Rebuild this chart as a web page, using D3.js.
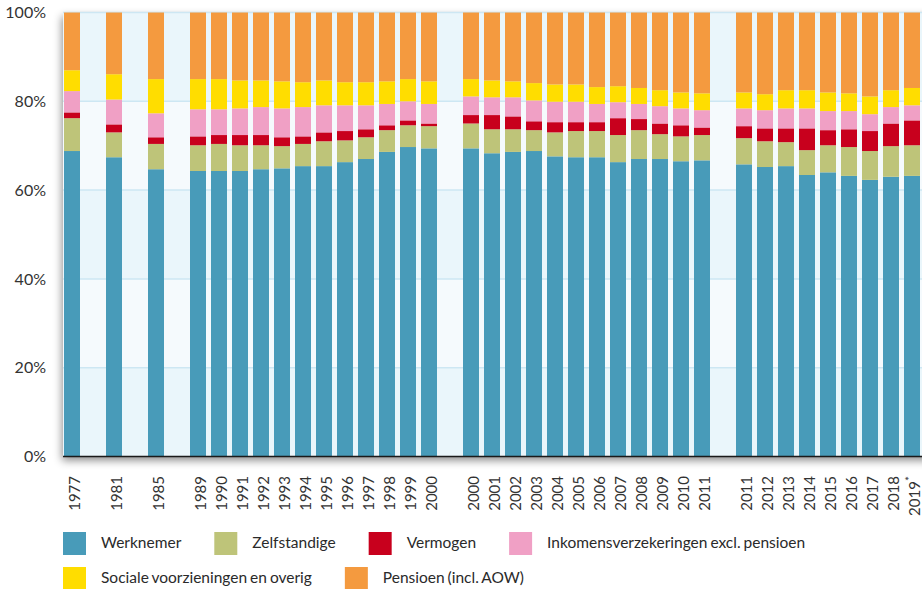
<!DOCTYPE html>
<html>
<head>
<meta charset="utf-8">
<script src="https://cdn.jsdelivr.net/npm/d3@7"></script>
<style>
  body { margin: 0; background: #fff; }
  svg { display: block; font-family: Lato, "Open Sans", sans-serif; }
  .axis text { fill: #333; }
</style>
</head>
<body>
<div id="chart"></div>
<script>
// x slots; null = empty slot between the series breaks
const categories = [
  "1977", null, "1981", null, "1985", null,
  "1989", "1990", "1991", "1992", "1993", "1994", "1995", "1996", "1997", "1998", "1999", "2000", null,
  "2000", "2001", "2002", "2003", "2004", "2005", "2006", "2007", "2008", "2009", "2010", "2011", null,
  "2011", "2012", "2013", "2014", "2015", "2016", "2017", "2018", "2019*"
];

// share of income per bar (%), one value per non-empty slot
const werknemer = [
  68.8, 67.4, 64.7,
  64.3, 64.3, 64.3, 64.7, 64.9, 65.4, 65.4, 66.3, 67.0, 68.6, 69.7, 69.4,
  69.4, 68.3, 68.6, 68.8, 67.6, 67.4, 67.4, 66.3, 67.0, 67.0, 66.5, 66.7,
  65.8, 65.2, 65.4, 63.4, 64.0, 63.2, 62.3, 63.0, 63.2
];
const zelfstandige = [
  7.4, 5.6, 5.7,
  5.8, 6.1, 5.8, 5.4, 5.0, 5.0, 5.6, 4.9, 4.9, 4.9, 4.9, 5.0,
  5.6, 5.4, 5.1, 4.7, 5.4, 5.9, 5.9, 6.1, 6.5, 5.6, 5.6, 5.7,
  5.9, 5.8, 5.4, 5.6, 6.1, 6.5, 6.5, 6.9, 6.9
];
const vermogen = [
  1.3, 1.8, 1.5,
  2.0, 2.0, 2.3, 2.3, 2.0, 1.7, 2.0, 2.1, 1.8, 1.1, 1.1, 0.6,
  1.9, 3.2, 2.9, 2.0, 2.3, 2.0, 2.0, 3.8, 2.5, 2.4, 2.5, 1.7,
  2.7, 2.9, 3.1, 4.9, 3.4, 4.0, 4.5, 5.1, 5.6
];
const inkomensverzekeringen = [
  4.8, 5.6, 5.4,
  6.1, 5.8, 6.0, 6.3, 6.5, 6.6, 6.1, 5.8, 5.4, 4.8, 4.3, 4.4,
  4.2, 4.0, 4.3, 4.7, 4.6, 4.6, 4.1, 3.6, 3.4, 3.9, 3.8, 3.9,
  4.0, 4.1, 4.5, 4.5, 4.3, 4.1, 3.8, 3.7, 3.4
];
const socialeVoorzieningen = [
  4.7, 5.7, 7.7,
  6.8, 6.8, 6.3, 6.0, 6.1, 5.6, 5.6, 5.2, 5.2, 5.1, 5.0, 5.1,
  3.9, 3.8, 3.6, 3.9, 3.9, 3.9, 3.8, 3.6, 3.6, 3.6, 3.6, 3.8,
  3.6, 3.6, 4.1, 4.1, 4.2, 4.0, 4.0, 3.8, 3.9
];
const pensioen = [
  13.0, 13.9, 15.0,
  15.0, 15.0, 15.3, 15.3, 15.5, 15.7, 15.3, 15.7, 15.7, 15.5, 15.0, 15.5,
  15.0, 15.3, 15.5, 15.9, 16.2, 16.2, 16.8, 16.6, 17.0, 17.5, 18.0, 18.2,
  18.0, 18.4, 17.5, 17.5, 18.0, 18.2, 18.9, 17.5, 17.0
];

const seriesNames = [
  "Werknemer", "Zelfstandige", "Vermogen",
  "Inkomensverzekeringen excl. pensioen",
  "Sociale voorzieningen en overig", "Pensioen (incl. AOW)"
];
const seriesColors = ["#489bb9", "#bec479", "#c8001d", "#f0a0c5", "#ffdd00", "#f49a3f"];
const yTicks = [0, 20, 40, 60, 80, 100];

const width = 922, height = 589;
const plot = { l: 63, t: 12.5, b: 456.5 };

const svg = d3.select("#chart").append("svg")
  .attr("width", width)
  .attr("height", height);

// soft shadow under the plot panel
const defs = svg.append("defs");
defs.append("filter")
  .attr("id", "shadow")
  .attr("x", "-5%").attr("y", "-5%")
  .attr("width", "110%").attr("height", "115%")
  .append("feDropShadow")
  .attr("dx", -1).attr("dy", 4)
  .attr("stdDeviation", 4.5)
  .attr("flood-color", "#000")
  .attr("flood-opacity", 0.45);

// build the rows for the stack from the named arrays
const series = [werknemer, zelfstandige, vermogen, inkomensverzekeringen, socialeVoorzieningen, pensioen];
const slots = categories.map((c, i) => i).filter(i => categories[i] !== null);
const rows = slots.map((slot, j) => {
  const row = { slot: slot };
  seriesNames.forEach((name, k) => { row[name] = series[k][j]; });
  return row;
});

const x = d3.scaleBand()
  .domain(d3.range(categories.length))
  .range([61.5, 922.5])
  .paddingInner(5 / 21)
  .paddingOuter(2.5 / 21);

const y = d3.scaleLinear().domain([0, 100]).range([plot.b, plot.t]);

// plot panel with alternating bands
const panel = svg.append("g");
panel.append("rect")
  .attr("x", plot.l).attr("y", y(100))
  .attr("width", width + 10 - plot.l).attr("height", y(0) - y(100))
  .attr("fill", "#eaf6fb")
  .attr("filter", "url(#shadow)");

panel.selectAll(".band")
  .data([20, 60])
  .join("rect")
  .attr("class", "band")
  .attr("x", plot.l).attr("y", d => y(d + 20))
  .attr("width", width + 10 - plot.l).attr("height", d => y(d) - y(d + 20))
  .attr("fill", "#f5fafd");

panel.selectAll(".grid")
  .data(yTicks.slice(1))
  .join("line")
  .attr("class", "grid")
  .attr("x1", plot.l).attr("x2", width)
  .attr("y1", d => y(d)).attr("y2", d => y(d))
  .attr("stroke", "#cde7f3")
  .attr("stroke-width", 1.5);

// stacked bars
const stacked = d3.stack().keys(seriesNames)(rows);

svg.append("g")
  .selectAll("g")
  .data(stacked)
  .join("g")
  .attr("fill", (d, i) => seriesColors[i])
  .selectAll("rect")
  .data(d => d)
  .join("rect")
  .attr("x", d => x(d.data.slot))
  .attr("y", d => y(d[1]))
  .attr("width", x.bandwidth())
  .attr("height", d => y(d[0]) - y(d[1]));

// baseline
svg.append("line")
  .attr("x1", plot.l).attr("x2", width)
  .attr("y1", y(0)).attr("y2", y(0))
  .attr("stroke", "#1a1a1a")
  .attr("stroke-width", 1.5);

// y axis
svg.append("g")
  .attr("class", "axis")
  .attr("transform", "translate(" + plot.l + ",0)")
  .call(d3.axisLeft(y).tickValues(yTicks).tickFormat(d => d + "%").tickSize(0).tickPadding(17))
  .call(g => g.select(".domain").remove())
  .selectAll("text")
  .attr("font-size", 16)
  .attr("font-family", "Lato, sans-serif");

// x axis, labels turned upright
const xAxis = svg.append("g")
  .attr("class", "axis")
  .attr("transform", "translate(0," + y(0) + ")")
  .call(d3.axisBottom(x).tickValues(slots).tickFormat(i => categories[i]).tickSize(0))
  .call(g => g.select(".domain").remove());

xAxis.selectAll("text")
  .attr("font-size", 15)
  .attr("font-family", "Lato, sans-serif")
  .attr("transform", "rotate(-90)")
  .attr("text-anchor", "end")
  .attr("x", -19.5)
  .attr("y", 0)
  .attr("dy", "0.5em")
  .each(function (i) {
    const label = categories[i];
    if (label.endsWith("*")) {
      const t = d3.select(this).text(label.slice(0, -1));
      t.append("tspan").attr("dy", "-0.45em").attr("font-size", 12).text("*");
    }
  });

// legend, two rows, items flow left to right
const legendRows = [seriesNames.slice(0, 4), seriesNames.slice(4)];
const legendTop = [532, 567];

legendRows.forEach((names, r) => {
  let cx = 63;
  names.forEach(name => {
    const k = seriesNames.indexOf(name);
    const g = svg.append("g").attr("transform", "translate(" + cx + "," + legendTop[r] + ")");
    g.append("rect")
      .attr("width", 23).attr("height", 23)
      .attr("fill", seriesColors[k]);
    const t = g.append("text")
      .attr("x", 38).attr("y", 16)
      .attr("font-size", 15.5)
      .attr("word-spacing", -1)
      .attr("fill", "#2a2a2a")
      .text(name);
    cx += 38 + t.node().getComputedTextLength() + 33;
  });
});
</script>
</body>
</html>
